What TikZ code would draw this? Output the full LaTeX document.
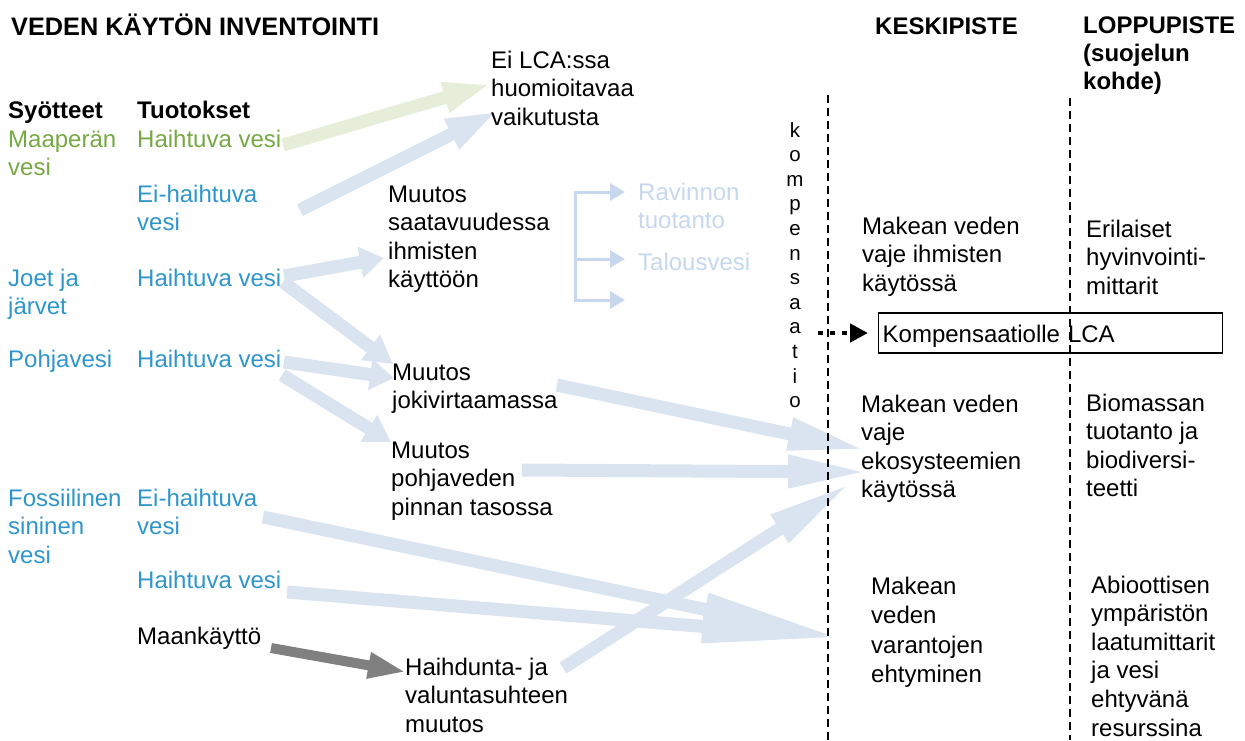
\documentclass[tikz,border=0pt]{standalone}
\usepackage{fontspec}
\setmainfont{Liberation Sans}
\usetikzlibrary{arrows.meta}
\definecolor{arrblue}{HTML}{DAE3F0}
\definecolor{arrgreen}{HTML}{E6EED9}
\definecolor{arrgrey}{HTML}{808080}
\definecolor{txtgreen}{HTML}{76A843}
\definecolor{txtblue}{HTML}{2E95CD}
\definecolor{txtlight}{HTML}{C6D7EE}
\tikzset{
  txt/.style={anchor=base west, inner sep=0pt, align=left, font=\fontsize{24}{28.6}\selectfont},
  hd/.style={txt, font=\bfseries\fontsize{24}{28}\selectfont},
  fat/.style={draw=arrblue, line width=13pt, -{Triangle[length=#1, width=30pt]}},
  fat/.default=30pt,
  fatg/.style={draw=arrgreen, line width=13pt, -{Triangle[length=#1, width=28pt]}},
  fatgrey/.style={draw=arrgrey, line width=10pt, -{Triangle[length=#1, width=24pt]}},
  brk/.style={draw=txtlight, line width=3pt},
  brkarr/.style={brk, -{Triangle[length=15pt, width=17pt]}},
  dashline/.style={line width=1.8pt, dash pattern=on 8pt off 5pt},
  dotarr/.style={line width=4.5pt, dash pattern=on 5pt off 7pt, -{Triangle[length=18pt, width=18pt]}, shorten >=10pt},
}
\begin{document}
\begin{tikzpicture}[x=1pt,y=-1pt]
\useasboundingbox (0,0) rectangle (1245,740);

% ---------- fat arrows ----------
\coordinate (g1s) at (283,145);  \coordinate (g1e) at (491,84);
\coordinate (b1s) at (300,210);  \coordinate (b1e) at (498,111);
\coordinate (b2s) at (284,276);  \coordinate (b2e) at (384,258);
\coordinate (b3s) at (283,282);  \coordinate (b3e) at (393,364);
\coordinate (b4s) at (284,362);  \coordinate (b4e) at (394,378);
\coordinate (b5s) at (282,375);  \coordinate (b5e) at (391,442);
\coordinate (b6s) at (557,385);  \coordinate (b6e) at (866,450);
\coordinate (b7s) at (522,470);  \coordinate (b7e) at (868,472);
\coordinate (b8s) at (563,668);  \coordinate (b8e) at (851,483);
\coordinate (b9s) at (263,517);  \coordinate (b9e) at (842,638);
\coordinate (b10s) at (287,592); \coordinate (b10e) at (842,638);
\coordinate (gr1s) at (271,648); \coordinate (gr1e) at (406,672);

\draw[fatg=48pt] (g1s) -- (g1e);
\draw[fat=52pt] (b1s) -- (b1e);
\draw[fat=24pt] (b2s) -- (b2e);
\draw[fat=28pt] (b3s) -- (b3e);
\draw[fat=24pt] (b4s) -- (b4e);
\draw[fat=26pt] (b5s) -- (b5e);
\draw[fat=78pt] (b6s) -- (b6e);
\draw[fat=80pt] (b7s) -- (b7e);
\draw[fat=85pt] (b8s) -- (b8e);
\draw[fat=140pt] (b9s) -- (b9e);
\draw[fat=140pt] (b10s) -- (b10e);
\draw[fatgrey=38pt] (gr1s) -- (gr1e);

% ---------- bracket ----------
\coordinate (brt) at (575,190.5); \coordinate (brb) at (575,301.5);
\coordinate (br1s) at (575,192);  \coordinate (br1e) at (625,192);
\coordinate (br2s) at (575,259);  \coordinate (br2e) at (625,259);
\coordinate (br3s) at (575,300);  \coordinate (br3e) at (625,300);
\draw[brk] (brt) -- (brb);
\draw[brkarr] (br1s) -- (br1e);
\draw[brkarr] (br2s) -- (br2e);
\draw[brkarr] (br3s) -- (br3e);

% ---------- headings (multi-line nodes are placed by their last baseline) ----------
\node[hd, font=\bfseries\fontsize{25.3}{27}\selectfont] (title) at (11,35) {VEDEN KÄYTÖN INVENTOINTI};
\node[hd] (keski) at (875,34) {KESKIPISTE};
\node[hd] (loppu) at (1083,89) {LOPPUPISTE\\(suojelun\\kohde)};
\node[hd] (syot) at (8,118) {Syötteet};
\node[hd] (tuot) at (137,118) {Tuotokset};

% ---------- inputs / outputs ----------
\node[txt, text=txtgreen] (maa) at (8,175.6) {Maaperän\\vesi};
\node[txt, text=txtgreen] (hv1) at (137,147) {Haihtuva vesi};
\node[txt, text=txtblue] (eh1) at (137,230.6) {Ei-haihtuva\\vesi};
\node[txt, text=txtblue] (joet) at (8,314.6) {Joet ja\\järvet};
\node[txt, text=txtblue] (hv2) at (137,286) {Haihtuva vesi};
\node[txt, text=txtblue] (pohja) at (8,367) {Pohjavesi};
\node[txt, text=txtblue] (hv3) at (137,367) {Haihtuva vesi};
\node[txt, text=txtblue] (foss) at (8,563.2) {Fossiilinen\\sininen\\vesi};
\node[txt, text=txtblue] (eh2) at (137,534.6) {Ei-haihtuva\\vesi};
\node[txt, text=txtblue] (hv4) at (137,588) {Haihtuva vesi};
\node[txt] (maank) at (137,644) {Maankäyttö};

% ---------- middle ----------
\node[txt] (eilca) at (491,125.2) {Ei LCA:ssa\\huomioitavaa\\vaikutusta};
\node[txt] (saat) at (388,287.8) {Muutos\\saatavuudessa\\ihmisten\\käyttöön};
\node[txt, text=txtlight] (ravinto) at (638,228.6) {Ravinnon\\tuotanto};
\node[txt, text=txtlight] (talous) at (638,270) {Talousvesi};
\node[txt] (joki) at (392,408.6) {Muutos\\jokivirtaamassa};
\node[txt] (pohjav) at (391,515.2) {Muutos\\pohjaveden\\pinnan tasossa};
\node[txt] (haihd) at (405,732.2) {Haihdunta- ja\\valuntasuhteen\\muutos};

% ---------- compensation ----------
\node[anchor=base, inner sep=0pt, align=center, font=\fontsize{20.5}{24.6}\selectfont] (komp) at (795,407.6)
  {k\\o\\m\\p\\e\\n\\s\\a\\a\\t\\i\\o};
\node[draw, line width=1.3pt, anchor=west, text width=336pt, inner xsep=4pt, inner ysep=0pt,
      text height=20.5pt, text depth=2pt,
      minimum height=40pt, align=left, font=\fontsize{24}{28.6}\selectfont] (box) at (878,333) {Kompensaatiolle LCA};
\coordinate (dots) at (818,333);
\draw[dotarr] (dots) -- (box.west);

% ---------- dashed separators ----------
\coordinate (d1t) at (828,95);  \coordinate (d1b) at (828,740);
\coordinate (d2t) at (1070,98); \coordinate (d2b) at (1070,740);
\draw[dashline] (d1t) -- (d1b);
\draw[dashline] (d2t) -- (d2b);

% ---------- right columns ----------
\node[txt] (mvih) at (862,291.2) {Makean veden\\vaje ihmisten\\käytössä};
\node[txt] (eril) at (1086,294.2) {Erilaiset\\hyvinvointi-\\mittarit};
\node[txt] (mveko) at (861,497.8) {Makean veden\\vaje\\ekosysteemien\\käytössä};
\node[txt] (bio) at (1086,496.8) {Biomassan\\tuotanto ja\\biodiversi-\\teetti};
\node[txt, font=\fontsize{24}{29.5}\selectfont] (mvvar) at (871,682.5) {Makean\\veden\\varantojen\\ehtyminen};
\node[txt] (abio) at (1091,736) {Abioottisen\\ympäristön\\laatumittarit\\ja vesi\\ehtyvänä\\resurssina};
\end{tikzpicture}
\end{document}
